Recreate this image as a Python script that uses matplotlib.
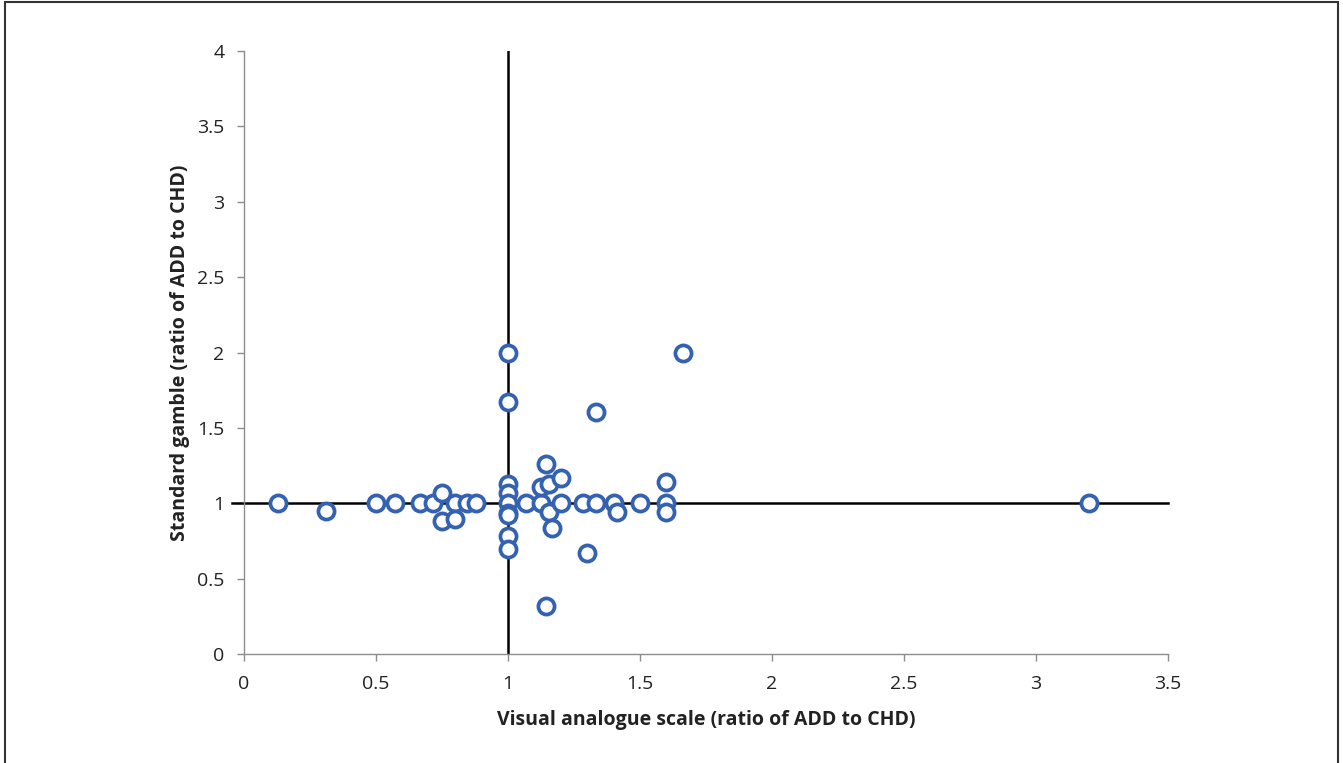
import matplotlib
matplotlib.use("Agg")
import matplotlib.pyplot as plt
from matplotlib.patches import Rectangle
import numpy as np

# Visual analogue scale ratio (x) vs standard gamble ratio (y)
vas = [0.13, 0.31, 0.50, 0.57, 0.667, 0.717, 0.75, 0.75, 0.80, 0.80, 0.843, 0.88,
       1.0, 1.0, 1.0, 1.0, 1.0, 1.0, 1.0, 1.0, 1.0,
       1.068, 1.124, 1.124, 1.144, 1.144, 1.157, 1.157, 1.165, 1.2, 1.2,
       1.285, 1.298, 1.333, 1.333, 1.40, 1.414, 1.5, 1.6, 1.6, 1.6, 1.664, 3.2]
sg = [1.0, 0.95, 1.0, 1.0, 1.0, 1.0, 1.07, 0.88, 1.0, 0.895, 1.0, 1.0,
      2.0, 1.67, 1.13, 1.07, 1.0, 0.933, 0.78, 0.695, 0.92,
      1.0, 1.0, 1.11, 1.258, 0.318, 1.13, 0.94, 0.834, 1.17, 1.0,
      1.0, 0.668, 1.607, 1.0, 1.0, 0.94, 1.0, 1.14, 1.0, 0.945, 2.0, 1.0]

xticks = [0, 0.5, 1, 1.5, 2, 2.5, 3, 3.5]
yticks = [0, 0.5, 1, 1.5, 2, 2.5, 3, 3.5, 4]
xlabel = "Visual analogue scale (ratio of ADD to CHD)"
ylabel = "Standard gamble (ratio of ADD to CHD)"

plt.rcParams['font.family'] = ['Open Sans', 'DejaVu Sans']

fig = plt.figure(figsize=(13.43, 7.63), dpi=100)
ax = fig.add_axes([0.1817, 0.1428, 0.688, 0.7904])

# reference lines at ratio 1
ax.plot([1, 1], [0, 4], color='black', lw=1.8, zorder=2)
ax.plot([-0.045, 3.5], [1, 1], color='black', lw=1.8, zorder=2, clip_on=False)

ax.scatter(vas, sg, s=135, facecolor='white', edgecolor='#3462b0',
           linewidth=2.7, zorder=3, clip_on=False)

ax.set_xlim(0, 3.5)
ax.set_ylim(0, 4)
ax.set_xticks(xticks)
ax.set_xticklabels([f"{t:g}" for t in xticks])
ax.set_yticks(yticks)
ax.set_yticklabels([f"{t:g}" for t in yticks])

for s in ['top', 'right']:
    ax.spines[s].set_visible(False)
for s in ['left', 'bottom']:
    ax.spines[s].set_color('#8c8c8c')
    ax.spines[s].set_linewidth(1.0)
ax.tick_params(axis='both', direction='out', length=5, width=1,
               color='#8c8c8c', labelsize=14, labelcolor='#222222')
ax.tick_params(axis='x', pad=10)
ax.tick_params(axis='y', pad=9)

ax.set_xlabel(xlabel, fontsize=14, fontweight='bold', color='#222222', labelpad=12)
ax.set_ylabel(ylabel, fontsize=14, fontweight='bold', color='#222222', labelpad=5)

# outer frame of the figure
fig.patches.append(Rectangle((5 / 1343, -0.01), (1338 - 5) / 1343, 1 - 2 / 763 + 0.01,
                             transform=fig.transFigure, fill=False,
                             edgecolor='#333333', lw=1.5))

fig.savefig("out.png", dpi=100)
